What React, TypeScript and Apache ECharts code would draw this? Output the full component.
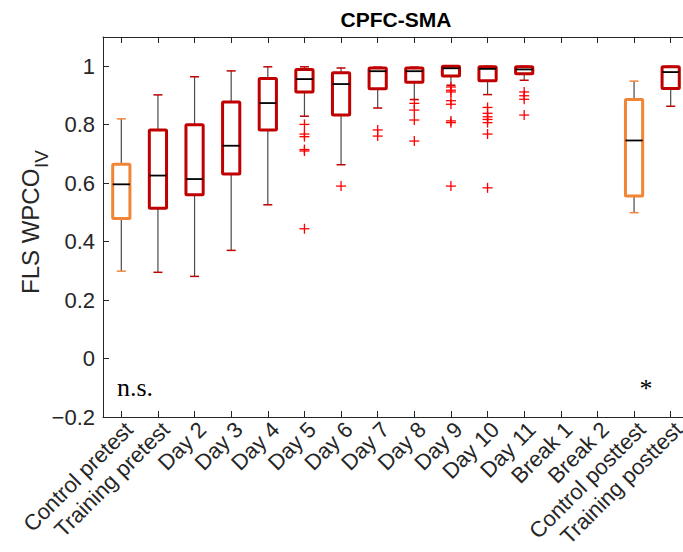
import React, { useEffect, useRef } from "react";
import * as echarts from "echarts";

const categories = [
  "Control pretest", "Training pretest", "Day 2", "Day 3", "Day 4", "Day 5", "Day 6",
  "Day 7", "Day 8", "Day 9", "Day 10", "Day 11", "Break 1", "Break 2",
  "Control posttest", "Training posttest",
];
// group of each category: "c" control, "t" training, "" none
const groups = ["c", "t", "t", "t", "t", "t", "t", "t", "t", "t", "t", "t", "", "", "c", "t"];
const whiskerLow = [0.299, 0.295, 0.281, 0.37, 0.526, 0.829, 0.663, 0.857, 0.886, 0.935, 0.903, 0.952, null, null, 0.499, 0.863];
const quartile1 = [0.479, 0.514, 0.56, 0.631, 0.782, 0.912, 0.833, 0.923, 0.945, 0.967, 0.95, 0.974, null, null, 0.556, 0.924];
const medians = [0.596, 0.626, 0.614, 0.728, 0.874, 0.956, 0.939, 0.983, 0.983, 0.993, 0.991, 0.989, null, null, 0.746, 0.98];
const quartile3 = [0.665, 0.782, 0.8, 0.878, 0.958, 0.989, 0.978, 0.994, 0.994, 1.0, 0.998, 0.998, null, null, 0.886, 0.998];
const whiskerHigh = [0.82, 0.902, 0.964, 0.984, 0.998, 0.998, 0.994, 0.997, 0.997, 1.0, 1.0, 1.0, null, null, 0.949, 1.0];

const outlierCategory = [
  5, 5, 5, 5, 5, 5,
  6,
  7, 7,
  8, 8, 8, 8,
  9, 9, 9, 9, 9, 9, 9, 9,
  10, 10, 10, 10, 10, 10, 10,
  11, 11, 11, 11,
];
const outlierValue = [
  0.801, 0.768, 0.759, 0.715, 0.71, 0.444,
  0.59,
  0.782, 0.761,
  0.873, 0.85, 0.816, 0.744,
  0.929, 0.918, 0.912, 0.882, 0.87, 0.813, 0.807, 0.59,
  0.859, 0.839, 0.827, 0.818, 0.807, 0.768, 0.584,
  0.912, 0.899, 0.887, 0.833,
];

const yTicks = { min: -0.2, max: 1.1, interval: 0.2 };

const COLORS: Record<string, string> = { c: "#F08536", t: "#C00000" };
const AXIS = "#262626";
const FONT = "'Liberation Sans', Arial, Helvetica, sans-serif";

export default function App() {
  const ref = useRef<HTMLDivElement>(null);
  useEffect(() => {
    if (!ref.current) return;
    const chart = echarts.init(ref.current, null, { renderer: "svg" });

    const boxData: any[] = [];
    categories.forEach((_, i) => {
      if (medians[i] == null) return;
      boxData.push([i, whiskerLow[i], quartile1[i], medians[i], quartile3[i], whiskerHigh[i], groups[i] === "c" ? 0 : 1]);
    });
    const outData = outlierCategory.map((c, k) => [c, outlierValue[k]]);

    const renderBox = (params: any, api: any) => {
      const x = api.value(0);
      const lo = api.coord([x, api.value(1)]);
      const q1 = api.coord([x, api.value(2)]);
      const md = api.coord([x, api.value(3)]);
      const q3 = api.coord([x, api.value(4)]);
      const hi = api.coord([x, api.value(5)]);
      const color = api.value(6) === 0 ? COLORS.c : COLORS.t;
      const band = api.size([1, 0])[0];
      const hw = band * 0.235;
      const cw = 4.5;
      const cx = lo[0];
      const wStyle = { stroke: "#4a4a4a", lineWidth: 1.2 };
      const cStyle = { stroke: color, lineWidth: 1.5 };
      return {
        type: "group",
        children: [
          { type: "line", shape: { x1: cx, y1: q3[1], x2: cx, y2: hi[1] }, style: wStyle },
          { type: "line", shape: { x1: cx, y1: q1[1], x2: cx, y2: lo[1] }, style: wStyle },
          { type: "line", shape: { x1: cx - cw, y1: hi[1], x2: cx + cw, y2: hi[1] }, style: cStyle },
          { type: "line", shape: { x1: cx - cw, y1: lo[1], x2: cx + cw, y2: lo[1] }, style: cStyle },
          {
            type: "rect",
            shape: { x: cx - hw, y: q3[1], width: hw * 2, height: Math.max(q1[1] - q3[1], 1), r: 1 },
            style: { fill: "none", stroke: color, lineWidth: 3 },
          },
          { type: "line", shape: { x1: cx - hw, y1: md[1], x2: cx + hw, y2: md[1] }, style: { stroke: "#000", lineWidth: 1.8 } },
        ],
      };
    };

    const renderOutlier = (params: any, api: any) => {
      const p = api.coord([api.value(0), api.value(1)]);
      const a = 5;
      const st = { stroke: "#FF0000", lineWidth: 1.3 };
      return {
        type: "group",
        children: [
          { type: "line", shape: { x1: p[0] - a, y1: p[1], x2: p[0] + a, y2: p[1] }, style: st },
          { type: "line", shape: { x1: p[0], y1: p[1] - a, x2: p[0], y2: p[1] + a }, style: st },
        ],
      };
    };

    const fmt = (v: number) => {
      const r = Math.round(v * 10) / 10;
      const s = String(Math.abs(r));
      return r < 0 ? "\u2212" + s : s;
    };

    const xBase = {
      type: "category",
      data: categories,
      boundaryGap: true,
      axisLine: { show: true, onZero: false, lineStyle: { color: AXIS, width: 1 } },
      axisTick: { show: true, inside: true, length: 6, alignWithLabel: true, interval: 0, lineStyle: { color: AXIS } },
      splitLine: { show: false },
    };

    chart.setOption({
      animation: false,
      backgroundColor: "#ffffff",
      grid: { left: 103, top: 37, width: 586, height: 380, containLabel: false },
      xAxis: [
        {
          ...xBase,
          position: "bottom",
          axisLabel: { show: true, rotate: 45, interval: 0, fontSize: 22, color: AXIS, fontFamily: FONT, margin: 1, verticalAlign: "top" },
        },
        { ...xBase, position: "top", axisLabel: { show: false } },
      ],
      yAxis: [
        {
          type: "value",
          position: "left",
          min: yTicks.min,
          max: yTicks.max,
          interval: yTicks.interval,
          axisLine: { show: true, onZero: false, lineStyle: { color: AXIS, width: 1 } },
          axisTick: { show: true, inside: true, length: 6, lineStyle: { color: AXIS } },
          axisLabel: { show: true, showMaxLabel: false, fontSize: 22, color: AXIS, fontFamily: FONT, margin: 8, formatter: fmt },
          splitLine: { show: false },
        },
        {
          type: "value",
          position: "right",
          min: yTicks.min,
          max: yTicks.max,
          interval: yTicks.interval,
          axisLine: { show: true, onZero: false, lineStyle: { color: AXIS, width: 1 } },
          axisTick: { show: true, inside: true, length: 6, lineStyle: { color: AXIS } },
          axisLabel: { show: false },
          splitLine: { show: false },
        },
      ],
      series: [
        {
          type: "custom",
          xAxisIndex: 0,
          yAxisIndex: 0,
          renderItem: renderBox,
          encode: { x: 0, y: [1, 2, 3, 4, 5] },
          data: boxData,
          z: 3,
        },
        {
          type: "custom",
          xAxisIndex: 0,
          yAxisIndex: 0,
          renderItem: renderOutlier,
          encode: { x: 0, y: 1 },
          data: outData,
          z: 4,
        },
      ],
      graphic: [
        {
          type: "text",
          x: 396,
          y: 19,
          style: { text: "CPFC-SMA", font: `bold 21px ${FONT}`, fill: "#000", align: "center", verticalAlign: "middle" },
        },
        {
          type: "group",
          x: 42,
          y: 294,
          rotation: Math.PI / 2,
          children: [
            {
              type: "text",
              x: 0,
              y: 0,
              style: { text: "FLS WPCO", font: `24px ${FONT}`, fill: AXIS, align: "left", verticalAlign: "bottom" },
            },
            {
              type: "text",
              x: 126,
              y: 9,
              style: { text: "IV", font: `19px ${FONT}`, fill: AXIS, align: "left", verticalAlign: "bottom" },
            },
          ],
        },
        {
          type: "text",
          x: 117,
          y: 387,
          style: { text: "n.s.", font: `26px 'Liberation Serif', 'Times New Roman', serif`, fill: "#000", align: "left", verticalAlign: "middle" },
        },
        {
          type: "text",
          x: 646,
          y: 388,
          style: { text: "*", font: `26px 'Liberation Serif', 'Times New Roman', serif`, fill: "#000", align: "center", verticalAlign: "middle" },
        },
      ],
    });
    return () => chart.dispose();
  }, []);
  return (
    <div style={{ position: "fixed", left: 0, top: 0, width: 683, height: 552, overflow: "hidden", background: "#fff" }}>
      <div ref={ref} style={{ width: 700, height: 552 }} />
    </div>
  );
}
